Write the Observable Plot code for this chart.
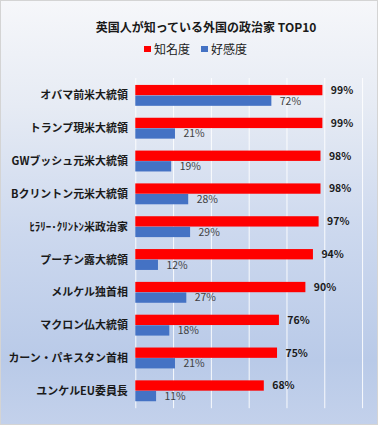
<!DOCTYPE html>
<html>
<head>
<meta charset="utf-8">
<script src="https://cdn.jsdelivr.net/npm/d3@7"></script>
<script src="https://cdn.jsdelivr.net/npm/@observablehq/plot@0.6"></script>
<style>
  html, body { margin: 0; padding: 0; }
  #wrap {
    position: relative; width: 376px; height: 423px;
    border: 1px solid #d4d4d4;
    background: linear-gradient(to bottom, #f6f7fa 0%, #e6ebf4 25%, #ccd8ee 55%, #b9cae8 85%, #c3d1eb 100%);
    font-family: "Noto Sans CJK JP", sans-serif;
    overflow: hidden;
  }
  #title {
    position: absolute; left: 205px; top: 17px; transform: translateX(-50%);
    white-space: nowrap; font-size: 12px; font-weight: bold; color: #1a1a1a;
  }
  #legend {
    position: absolute; left: 143px; top: 39px; display: flex; align-items: center;
    font-size: 12px; color: #1a1a1a; white-space: nowrap;
  }
  .sw { display: inline-block; width: 7px; height: 6px; margin-right: 3px; }
  .item { display: flex; align-items: center; margin-right: 11px; }
  #chart { position: absolute; left: 0; top: 71px; }
</style>
</head>
<body>
<div id="wrap">
  <div id="title">英国人が知っている外国の政治家 TOP10</div>
  <div id="legend"></div>
  <div id="chart"></div>
</div>
<script>
const categories = [
  "オバマ前米大統領",
  "トランプ現米大統領",
  "GWブッシュ元米大統領",
  "Bクリントン元米大統領",
  "ﾋﾗﾘｰ･ｸﾘﾝﾄﾝ米政治家",
  "プーチン露大統領",
  "メルケル独首相",
  "マクロン仏大統領",
  "カーン・パキスタン首相",
  "ユンケルEU委員長"
];
const awareness = [99, 99, 98, 98, 97, 94, 90, 76, 75, 68];
const favorability = [72, 21, 19, 28, 29, 12, 27, 18, 21, 11];
const seriesNames = ["知名度", "好感度"];
const seriesColors = ["#ff0000", "#4472c4"];
const gridTicks = [0, 20, 40, 60, 80, 100, 120];

const legend = document.getElementById("legend");
seriesNames.forEach((n, i) => {
  const it = document.createElement("span");
  it.className = "item";
  it.innerHTML = `<span class="sw" style="background:${seriesColors[i]}"></span>${n}`;
  legend.appendChild(it);
});

const aw = categories.map((c, i) => ({cat: c, v: awareness[i]}));
const fav = categories.map((c, i) => ({cat: c, v: favorability[i]}));

const W = 378, H = 350;
const mTop = 6, mBottom = 12;
const step = (H - mTop - mBottom) / 10;
const bw = step * (1 - 0.36);
const half = bw / 2;

const chart = Plot.plot({
  width: W, height: H,
  marginLeft: 135, marginRight: 15, marginTop: mTop, marginBottom: mBottom,
  style: {background: "transparent", fontFamily: "'Noto Sans CJK JP', sans-serif", overflow: "visible"},
  x: {domain: [0, 120], axis: null},
  y: {domain: categories, paddingInner: 0.36, paddingOuter: 0.18, label: null},
  marks: [
    Plot.ruleX(gridTicks, {stroke: "#ffffff", strokeWidth: 1, strokeOpacity: 0.9}),
    Plot.barX(aw, {x: "v", y: "cat", fill: seriesColors[0], insetBottom: half}),
    Plot.barX(fav, {x: "v", y: "cat", fill: seriesColors[1], insetTop: half}),
    Plot.text(aw, {x: "v", y: "cat", text: d => d.v + "%", dy: -half / 2, dx: 8, textAnchor: "start", fontSize: 10.5, fontWeight: "bold", fill: "#1a1a1a"}),
    Plot.text(fav, {x: "v", y: "cat", text: d => d.v + "%", dy: half / 2, dx: 8, textAnchor: "start", fontSize: 10.5, fill: "#404040"}),
    Plot.axisY({tickSize: 0, tickPadding: 8, fontSize: 11, label: null, fill: "#1a1a1a", fontWeight: "bold"})
  ]
});
document.getElementById("chart").appendChild(chart);
</script>
</body>
</html>
